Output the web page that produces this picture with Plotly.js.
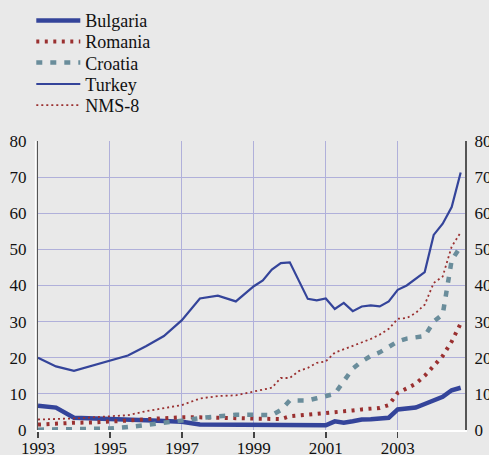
<!DOCTYPE html>
<html>
<head>
<meta charset="utf-8">
<script src="https://cdn.plot.ly/plotly-3.0.1.min.js"></script>
<style>html,body{margin:0;padding:0;background:#e9e9e9;}#chart{width:489px;height:455px;}</style>
</head>
<body>
<div id="chart"></div>
<script>
const seriesNames = ["Bulgaria", "Romania", "Croatia", "Turkey", "NMS-8"];

const periods = [1993, 1993.5, 1994, 1994.5, 1995, 1995.5, 1996, 1996.5, 1997, 1997.5, 1998, 1998.5,
  1999, 1999.25, 1999.5, 1999.75, 2000, 2000.25, 2000.5, 2000.75, 2001, 2001.25, 2001.5, 2001.75,
  2002, 2002.25, 2002.5, 2002.75, 2003, 2003.25, 2003.5, 2003.75, 2004, 2004.25, 2004.5, 2004.75];

const bulgaria = [6.7, 6.2, 3.4, 3.3, 3.2, 3.0, 2.7, 2.5, 2.3, 1.5, 1.5, 1.4,
  1.4, 1.4, 1.4, 1.5, 1.5, 1.5, 1.6, 1.5, 1.3, 2.4, 2.0, 2.4,
  2.9, 3.0, 3.2, 3.4, 5.7, 5.8, 6.2, 7.2, 8.2, 9.2, 11.0, 11.7];

const romania = [1.5, 1.8, 2.0, 2.1, 2.3, 2.6, 3.0, 3.3, 3.5, 3.5, 3.4, 3.1,
  3.0, 2.9, 2.9, 3.0, 3.8, 4.0, 4.2, 4.4, 4.6, 4.8, 5.0, 5.4,
  5.7, 5.9, 6.1, 6.9, 10.3, 11.5, 12.8, 15.0, 17.8, 20.5, 24.5, 29.5];

const croatia = [0.1, 0.1, 0.2, 0.3, 0.4, 0.8, 1.3, 1.9, 2.6, 3.3, 3.9, 4.2,
  4.2, 4.1, 4.1, 5.5, 8.2, 8.2, 8.2, 8.8, 9.3, 10.0, 13.5, 17.0,
  19.0, 20.5, 21.5, 23.0, 24.5, 25.3, 25.6, 26.0, 30.0, 32.0, 47.0, 50.8];

const turkeyPeriods = [1993, 1993.5, 1994, 1994.5, 1995, 1995.5, 1996, 1996.5, 1997, 1997.5, 1998, 1998.5,
  1999, 1999.25, 1999.5, 1999.75, 2000, 2000.5, 2000.75, 2001, 2001.25, 2001.5, 2001.75,
  2002, 2002.25, 2002.5, 2002.75, 2003, 2003.25, 2003.5, 2003.75, 2004, 2004.25, 2004.5, 2004.75];

const turkey = [20.0, 17.6, 16.4, 17.8, 19.0, 20.6, 23.2, 26.0, 30.4, 36.4, 37.2, 35.6,
  39.8, 41.4, 44.4, 46.2, 46.4, 36.3, 35.9, 36.4, 33.5, 35.2, 32.9,
  34.2, 34.5, 34.2, 35.6, 38.8, 40.0, 41.8, 43.7, 54.0, 57.1, 61.7, 71.3];

const nms8 = [2.9, 3.0, 3.2, 3.5, 3.8, 4.1, 5.2, 6.0, 6.9, 8.7, 9.4, 9.6,
  10.7, 11.2, 11.7, 14.4, 14.4, 16.3, 17.2, 18.6, 19.0, 21.4, 22.3, 23.2,
  24.1, 25.2, 26.4, 28.0, 30.8, 31.0, 32.4, 34.7, 40.7, 42.5, 50.8, 54.7];

const yTicks = [0, 10, 20, 30, 40, 50, 60, 70, 80];
const xTicks = [1993, 1995, 1997, 1999, 2001, 2003];

const blue = "#34449a";
const red = "#9a3030";
const teal = "#6a8d9b";

const legendIds = ["legend", "legend2", "legend3", "legend4", "legend5"];

const traces = [
  {x: periods, y: bulgaria, name: seriesNames[0], legend: legendIds[0], mode: "lines", line: {color: blue, width: 4.5}},
  {x: periods, y: romania, name: seriesNames[1], legend: legendIds[1], mode: "lines", line: {color: red, width: 4, dash: "3px,5.5px"}},
  {x: periods, y: croatia, name: seriesNames[2], legend: legendIds[2], mode: "lines", line: {color: teal, width: 4.5, dash: "6px,8px"}},
  {x: turkeyPeriods, y: turkey, name: seriesNames[3], legend: legendIds[3], mode: "lines", line: {color: blue, width: 2.2}},
  {x: periods, y: nms8, name: seriesNames[4], legend: legendIds[4], mode: "lines", line: {color: red, width: 1.8, dash: "2px,3px"}},
  {x: [periods[0]], y: [0], yaxis: "y2", showlegend: false, hoverinfo: "skip", mode: "lines", line: {width: 0}}
];

const fam = "'Liberation Serif', 'Times New Roman', Times, serif";
const font = {family: fam, size: 17, color: "#111"};
const grid = "#b0b0da";

const legendCenters = [20.7, 41.7, 62.9, 84.3, 105.5];

const layout = {
  width: 489, height: 455,
  margin: {l: 38, r: 24, t: 141, b: 24.5, pad: 0, autoexpand: false},
  paper_bgcolor: "#e9e9e9",
  plot_bgcolor: "#e9e9e9",
  font: font,
  showlegend: true,
  xaxis: {
    range: [1993, 2004.87], tickvals: xTicks, ticktext: xTicks.map(String),
    showgrid: true, gridcolor: grid, gridwidth: 1,
    showline: true, linecolor: "#ffffff", linewidth: 2,
    ticks: "outside", ticklen: 6, tickwidth: 1.5, tickcolor: "#444",
    zeroline: false, tickfont: font, ticklabelstandoff: -4, fixedrange: true, automargin: false
  },
  yaxis: {
    range: [0, 80], tickvals: yTicks, ticktext: yTicks.map(String),
    showgrid: true, gridcolor: grid, gridwidth: 1,
    showline: true, linecolor: "#555", linewidth: 2,
    ticks: "", zeroline: false, tickfont: font, ticklabelstandoff: 6, fixedrange: true, automargin: false
  },
  yaxis2: {
    range: [0, 80], tickvals: yTicks, ticktext: yTicks.map(String),
    overlaying: "y", side: "right", showgrid: false,
    showline: true, linecolor: "#555", linewidth: 2,
    ticks: "", zeroline: false, tickfont: font, ticklabelstandoff: 4, fixedrange: true, automargin: false
  },
  shapes: [
    {type: "line", xref: "paper", yref: "paper", x0: -0.005, x1: -0.005, y0: 0, y1: 1, line: {color: "#ffffff", width: 2}}
  ]
};

legendIds.forEach(function (id, i) {
  layout[id] = {
    x: 0.064, y: 1 - legendCenters[i] / 455, xref: "container", yref: "container",
    xanchor: "left", yanchor: "middle",
    bgcolor: "rgba(0,0,0,0)", font: {family: fam, size: 18, color: "#111"},
    itemwidth: 44, borderwidth: 0
  };
});

Plotly.newPlot("chart", traces, layout, {displayModeBar: false, staticPlot: true});
</script>
</body>
</html>
